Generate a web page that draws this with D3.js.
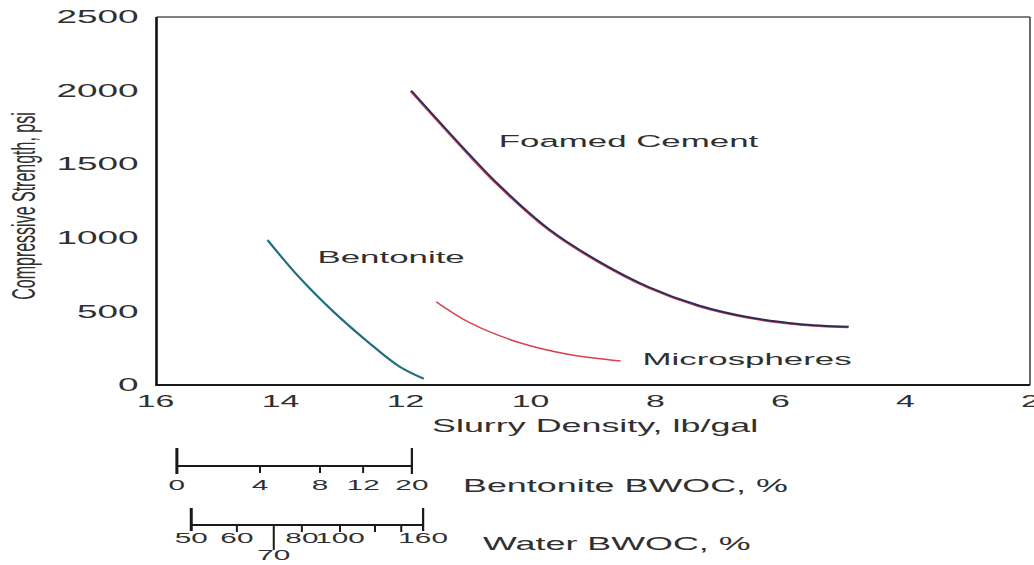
<!DOCTYPE html>
<html>
<head>
<meta charset="utf-8">
<script src="https://cdn.jsdelivr.net/npm/d3@7"></script>
<style>
  body { margin: 0; background: #fff; }
  svg { display: block; font-family: "Liberation Sans", Arial, sans-serif; }
</style>
</head>
<body>
<svg id="chart" width="1034" height="565"></svg>
<script>
// Compressive strength vs slurry density (lb/gal, psi)
const foamedDensity = [11.9, 11.0, 10.5, 9.7, 8.9, 8.1, 7.3, 6.5, 5.7, 4.9];
const foamedStrength = [2000, 1580, 1360, 1060, 840, 665, 540, 460, 415, 395];

const bentoniteDensity = [14.2, 13.7, 13.15, 12.6, 12.1, 11.7];
const bentoniteStrength = [985, 735, 500, 295, 128, 42];

const microDensity = [11.5, 10.95, 10.15, 9.35, 8.55];
const microStrength = [565, 420, 285, 205, 163];

const xTicks = [16, 14, 12, 10, 8, 6, 4, 2];
const yTicks = [0, 500, 1000, 1500, 2000, 2500];

// nomograph scales under the x axis: additive % against slurry density
const bwocBentonite = [0, 4, 8, 12, 20];
const bwocBentoniteDensity = [15.65, 14.32, 13.36, 12.67, 11.89];

const bwocWater = [50, 60, 70, 80, 100, 120, 140, 160];
const bwocWaterDensity = [15.42, 14.69, 14.10, 13.65, 13.04, 12.48, 12.06, 11.71];
const bwocWaterLabels = ["50", "60", "70", "80", "100", "", "", "160"];

// the figure is a wide scan, so all glyphs are drawn stretched sideways
const SX = 2.05;
const ink = "#303030";

const svg = d3.select("#chart");

const x = d3.scaleLinear().domain([16, 2]).range([155, 1030]);
const y = d3.scaleLinear().domain([0, 2500]).range([385, 17]);

// frame
const frameL = x(16) + 1.5, frameR = x(2), frameT = y(2500), frameB = y(0);
svg.append("line").attr("x1", frameL).attr("x2", frameR).attr("y1", frameT).attr("y2", frameT)
  .attr("stroke", "#555").attr("stroke-width", 1.6);
svg.append("line").attr("x1", frameR).attr("x2", frameR).attr("y1", frameT).attr("y2", frameB)
  .attr("stroke", "#444").attr("stroke-width", 1.6);
svg.append("line").attr("x1", frameL).attr("x2", frameR).attr("y1", frameB).attr("y2", frameB)
  .attr("stroke", "#1a1a1a").attr("stroke-width", 2);
svg.append("line").attr("x1", frameL).attr("x2", frameL).attr("y1", frameT).attr("y2", frameB + 1)
  .attr("stroke", "#111").attr("stroke-width", 2.6);

// axes, text only
const xAxis = svg.append("g")
  .attr("transform", `translate(0,${frameB})`)
  .call(d3.axisBottom(x).tickValues(xTicks).tickSize(0).tickFormat(d3.format("d")));
xAxis.select(".domain").remove();
xAxis.selectAll("text")
  .attr("y", 10)
  .attr("font-size", 16.5)
  .attr("font-family", "Liberation Sans, Arial, sans-serif")
  .attr("fill", ink)
  .attr("transform", `scale(${SX},1)`);

const yAxis = svg.append("g")
  .attr("transform", `translate(${x(16)},0)`)
  .call(d3.axisLeft(y).tickValues(yTicks).tickSize(0).tickFormat(d3.format("d")));
yAxis.select(".domain").remove();
yAxis.selectAll("text")
  .attr("x", -8)
  .attr("font-size", 18)
  .attr("font-family", "Liberation Sans, Arial, sans-serif")
  .attr("fill", ink)
  .attr("transform", `scale(${SX},1)`);

function stretchedText(px, py, str, size, anchor) {
  svg.append("g").attr("transform", `translate(${px},${py})`)
    .append("text")
    .attr("transform", `scale(${SX},1)`)
    .attr("text-anchor", anchor || "start")
    .attr("font-size", size)
    .attr("fill", ink)
    .text(str);
}

// axis titles
stretchedText(432, 432, "Slurry Density, lb/gal", 17.5);
svg.append("g").attr("transform", "translate(35,206)")
  .append("text")
  .attr("transform", `scale(${SX},1) rotate(-90)`)
  .attr("text-anchor", "middle")
  .attr("font-size", 16)
  .attr("fill", ink)
  .text("Compressive Strength, psi");

// curves
const line = d3.line()
  .x(d => x(d[0]))
  .y(d => y(d[1]))
  .curve(d3.curveCatmullRom.alpha(0.5));

const foamed = d3.zip(foamedDensity, foamedStrength);
const bentonite = d3.zip(bentoniteDensity, bentoniteStrength);
const micro = d3.zip(microDensity, microStrength);

// red fringe under the foamed cement line
svg.append("path").datum(foamed)
  .attr("d", line)
  .attr("transform", "translate(-1,0.8)")
  .attr("fill", "none")
  .attr("stroke", "#d8455a")
  .attr("stroke-width", 1.4);
svg.append("path").datum(foamed)
  .attr("d", line)
  .attr("fill", "none")
  .attr("stroke", "#2c2c58")
  .attr("stroke-width", 2);

svg.append("path").datum(bentonite)
  .attr("d", line)
  .attr("fill", "none")
  .attr("stroke", "#21707f")
  .attr("stroke-width", 2.2);

svg.append("path").datum(micro)
  .attr("d", line)
  .attr("fill", "none")
  .attr("stroke", "#d8434e")
  .attr("stroke-width", 1.5);

// curve labels
stretchedText(x(10.5), y(1615), "Foamed Cement", 17);
stretchedText(x(13.4), y(830), "Bentonite", 17);
stretchedText(x(8.2), y(135), "Microspheres", 17);

// nomograph scale bars
function scaleBar(densities, labels, lineY, endTop, endBottom, labelY, title, titleX, titleY, longIdx) {
  const g = svg.append("g");
  const xs = densities.map(d => x(d));
  g.append("line")
    .attr("x1", xs[0]).attr("x2", xs[xs.length - 1])
    .attr("y1", lineY).attr("y2", lineY)
    .attr("stroke", "#1a1a1a").attr("stroke-width", 1.8);
  xs.forEach((px, i) => {
    const isEnd = i === 0 || i === xs.length - 1;
    const isLong = i === longIdx;
    g.append("line")
      .attr("x1", px).attr("x2", px)
      .attr("y1", isEnd ? endTop : lineY)
      .attr("y2", isEnd ? endBottom : (isLong ? lineY + 25 : lineY + 7))
      .attr("stroke", "#1a1a1a")
      .attr("stroke-width", isEnd ? (i === 0 ? 3 : 2.2) : 2);
    if (labels[i] !== "") {
      g.append("g")
        .attr("transform", `translate(${px},${isLong ? labelY + 17 : labelY})`)
        .append("text")
        .attr("transform", `scale(${SX},1)`)
        .attr("text-anchor", "middle")
        .attr("font-size", 14.5)
        .attr("fill", ink)
        .text(labels[i]);
    }
  });
  stretchedText(titleX, titleY, title, 17.5);
}

scaleBar(bwocBentoniteDensity, bwocBentonite.map(String), 466, 448, 474, 490,
  "Bentonite BWOC, %", 463, 492, -1);
scaleBar(bwocWaterDensity, bwocWaterLabels, 525, 508, 531, 543,
  "Water BWOC, %", 483, 550, bwocWater.indexOf(70));
</script>
</body>
</html>
